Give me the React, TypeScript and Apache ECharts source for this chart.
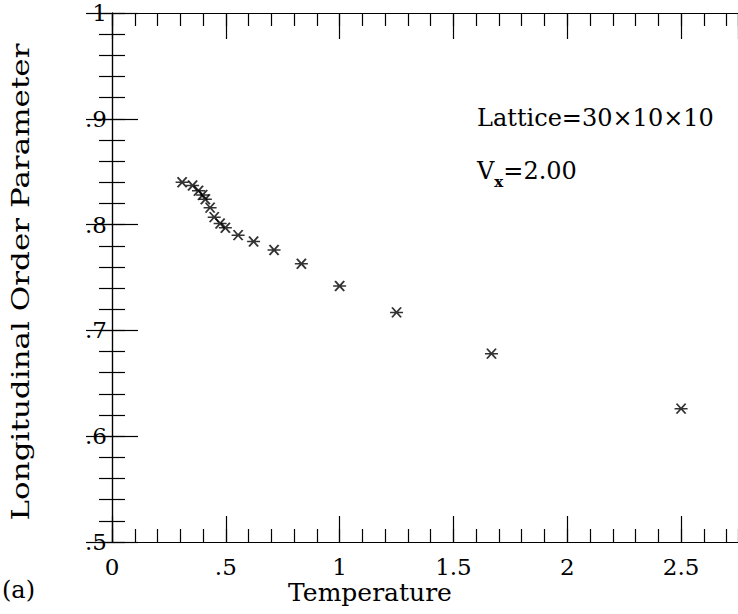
import React, { useEffect, useRef } from "react";
import * as echarts from "echarts";

// Temperature (x) and longitudinal order parameter (y)
const temperature = [0.308, 0.354, 0.38, 0.398, 0.41, 0.431, 0.449, 0.475, 0.498, 0.554, 0.622, 0.712, 0.832, 1.0, 1.25, 1.667, 2.5];
const orderParameter = [0.84, 0.837, 0.832, 0.828, 0.824, 0.816, 0.807, 0.801, 0.797, 0.79, 0.784, 0.776, 0.763, 0.742, 0.717, 0.678, 0.626];

const xLabelValues = [0, 0.5, 1, 1.5, 2, 2.5];
const yLabelValues = [0.5, 0.6, 0.7, 0.8, 0.9, 1];

const xTitle = "Temperature";
const yTitle = "Longitudinal Order Parameter";
const latticeText = "Lattice=30×10×10";
const panelText = "(a)";

const FONT = "'DejaVu Serif', serif";

function fmt(v: number): string {
  const r = Math.round(v * 10) / 10;
  if (r === 0) return "0";
  if (r === 1 || r === 2) return String(r);
  return String(r).replace(/^0\./, ".");
}

function isIn(list: number[], v: number) {
  return list.some((t) => Math.abs(t - v) < 1e-6);
}

export default function App() {
  const ref = useRef<HTMLDivElement>(null);
  useEffect(() => {
    if (!ref.current) return;
    const chart = echarts.init(ref.current, null, { renderer: "svg" });
    const grid = { left: 112, top: 13, right: -3.5, bottom: 72 };
    const lineStyle = { color: "#000", width: 1.2 };
    const majorTick = (len: number) => ({ show: true, inside: true, length: len, lineStyle: { color: "#000", width: 1.2 } });
    const baseX = { type: "value" as const, min: 0, max: 2.75, splitLine: { show: false } };
    const baseY = { type: "value" as const, min: 0.5, max: 1, splitLine: { show: false } };
    const series = [
      {
        type: "scatter",
        xAxisIndex: 0,
        yAxisIndex: 0,
        data: temperature.map((t, i) => [t, orderParameter[i]]),
        symbol: "path://M0,5L10,5M1.5,0L8.5,10M8.5,0L1.5,10",
        symbolSize: [13, 10],
        itemStyle: { color: "rgba(0,0,0,0)", borderColor: "#000", borderWidth: 1.7 },
      },
    ];
    chart.setOption({
      animation: false,
      backgroundColor: "#fff",
      grid,
      xAxis: [
        {
          ...baseX,
          position: "bottom",
          interval: 0.5,
          axisLine: { show: true, lineStyle },
          axisTick: majorTick(26),
          axisLabel: {
            show: true,
            color: "#000",
            fontFamily: FONT,
            fontSize: 23,
            margin: 13,
            showMaxLabel: false,
            formatter: (v: number) => (isIn(xLabelValues, v) ? fmt(v) : ""),
          },
        },
        { ...baseX, position: "bottom", interval: 0.1, axisLine: { show: false }, axisTick: majorTick(13), axisLabel: { show: false } },
        { ...baseX, position: "top", interval: 0.5, axisLine: { show: true, lineStyle }, axisTick: majorTick(26), axisLabel: { show: false } },
        { ...baseX, position: "top", interval: 0.1, axisLine: { show: false }, axisTick: majorTick(13), axisLabel: { show: false } },
      ],
      yAxis: [
        {
          ...baseY,
          position: "left",
          interval: 0.1,
          axisLine: { show: true, lineStyle },
          axisTick: majorTick(26),
          axisLabel: {
            show: true,
            color: "#000",
            fontFamily: FONT,
            fontSize: 23,
            margin: 5,
            formatter: (v: number) => (isIn(yLabelValues, v) ? fmt(v) : ""),
          },
        },
        { ...baseY, position: "left", interval: 0.02, axisLine: { show: false }, axisTick: majorTick(13), axisLabel: { show: false } },
        { ...baseY, position: "right", interval: 0.1, axisLine: { show: true, lineStyle }, axisTick: majorTick(26), axisLabel: { show: false } },
        { ...baseY, position: "right", interval: 0.02, axisLine: { show: false }, axisTick: majorTick(13), axisLabel: { show: false } },
      ],
      graphic: [
        {
          type: "text",
          x: 370,
          y: 592,
          style: { text: xTitle, font: `25px ${FONT}`, fill: "#000", align: "center", verticalAlign: "middle" },
        },
        {
          type: "text",
          x: 21,
          y: 282,
          rotation: Math.PI / 2,
          scaleX: 1.24,
          style: { text: yTitle, font: `25px ${FONT}`, fill: "#000", align: "center", verticalAlign: "middle" },
        },
        {
          type: "text",
          x: 2,
          y: 590,
          style: { text: panelText, font: `24px ${FONT}`, fill: "#000", align: "left", verticalAlign: "middle" },
        },
        {
          type: "text",
          x: 477,
          y: 118,
          style: { text: latticeText, font: `24px ${FONT}`, fill: "#000", align: "left", verticalAlign: "middle" },
        },
        {
          type: "text",
          x: 477,
          y: 171,
          style: {
            text: "{v|V}{s|x}{v|=2.00}",
            fill: "#000",
            align: "left",
            verticalAlign: "middle",
            rich: {
              v: { fontFamily: FONT, fontSize: 24, lineHeight: 36, verticalAlign: "middle", fill: "#000" },
              s: { fontFamily: FONT, fontSize: 15, fontWeight: "bold", lineHeight: 15, verticalAlign: "bottom", fill: "#000" },
            },
          },
        },
      ],
      series,
    });
    return () => chart.dispose();
  }, []);
  return (
    <div
      ref={ref}
      style={{ position: "fixed", left: 0, top: 0, width: 738, height: 614, background: "#fff" }}
    />
  );
}
